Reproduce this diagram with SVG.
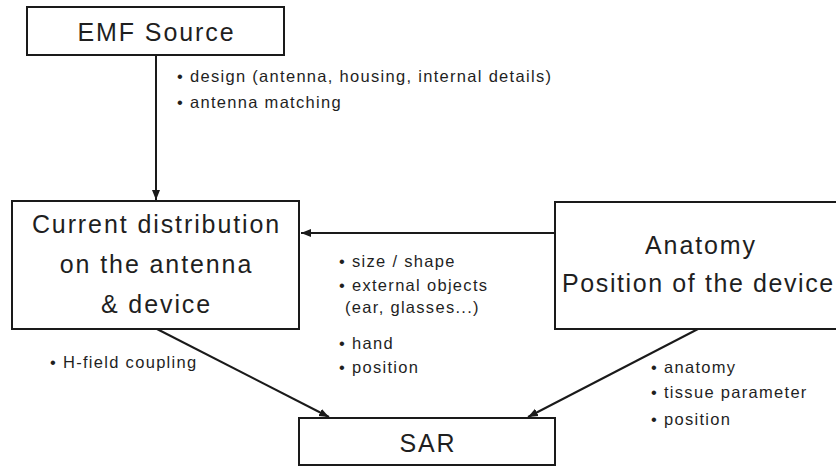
<svg xmlns="http://www.w3.org/2000/svg" width="836" height="466" viewBox="0 0 836 466">
<style>
.box{fill:#fff;stroke:#1a1a1a;stroke-width:2}
.big{font-family:"Liberation Sans",Arial,sans-serif;font-size:25px;letter-spacing:1.9px;fill:#1f1f1f;text-anchor:middle}
.sm{font-family:"Liberation Sans",Arial,sans-serif;font-size:16.5px;letter-spacing:1.3px;fill:#1f1f1f}
.con{stroke:#1a1a1a;stroke-width:2;fill:none;marker-end:url(#ah)}
</style>
<defs>
<marker id="ah" viewBox="0 0 10 10" refX="10" refY="5" markerWidth="10" markerHeight="10" markerUnits="userSpaceOnUse" orient="auto">
<path d="M0,1 L10,5 L0,9 z" fill="#1a1a1a"/>
</marker>
</defs>
<rect width="836" height="466" fill="#fff"/>
<g id="connectors">
<line class="con" x1="156" y1="55" x2="156" y2="200"/>
<line class="con" x1="555" y1="233" x2="301" y2="233"/>
<line class="con" x1="157" y1="329" x2="329" y2="417"/>
<line class="con" x1="698" y1="329" x2="528" y2="417"/>
</g>
<g id="emf">
<rect class="box" x="27" y="7" width="257" height="48"/>
<text class="big" x="156.5" y="41">EMF Source</text>
</g>
<g id="current">
<rect class="box" x="12" y="201" width="287" height="128"/>
<text class="big" x="156.5" y="233">Current distribution</text>
<text class="big" x="156.5" y="273">on the antenna</text>
<text class="big" x="156.5" y="313">&amp; device</text>
</g>
<g id="anatomy">
<rect class="box" x="555" y="202" width="290" height="127"/>
<text class="big" x="701" y="254">Anatomy</text>
<text class="big" x="562" y="292" style="text-anchor:start;letter-spacing:1.6px">Position of the device</text>
</g>
<g id="sar">
<rect class="box" x="299" y="418" width="256" height="47"/>
<text class="big" x="428" y="452">SAR</text>
</g>
<g id="labels">
<text class="sm" x="177" y="82">• design (antenna, housing, internal details)</text>
<text class="sm" x="177" y="108">• antenna matching</text>
<text class="sm" x="339" y="267">• size / shape</text>
<text class="sm" x="339" y="291">• external objects</text>
<text class="sm" x="345" y="313">(ear, glasses...)</text>
<text class="sm" x="339" y="349">• hand</text>
<text class="sm" x="339" y="373">• position</text>
<text class="sm" x="50" y="368">• H-field coupling</text>
<text class="sm" x="651" y="373">• anatomy</text>
<text class="sm" x="651" y="398">• tissue parameter</text>
<text class="sm" x="651" y="425">• position</text>
</g>
</svg>
